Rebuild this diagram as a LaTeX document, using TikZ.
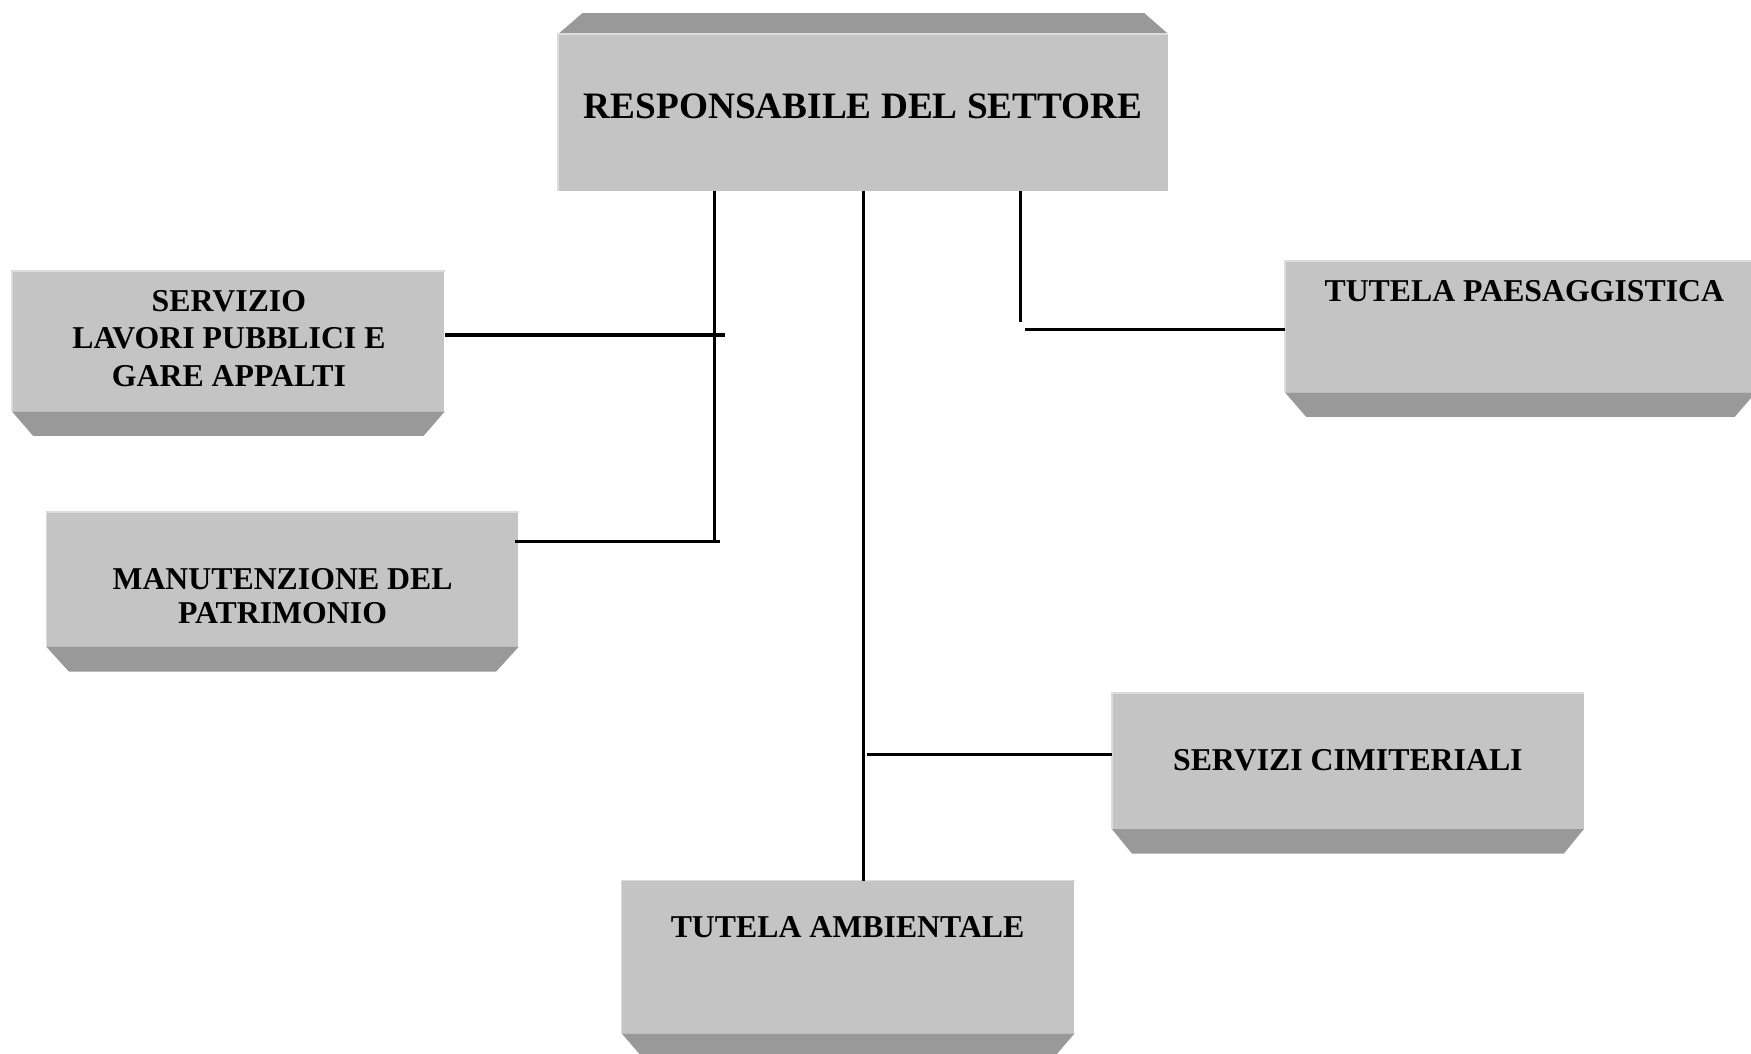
\documentclass[tikz,border=0pt]{standalone}
\usepackage{fontspec}
\setmainfont{Liberation Serif}
\usetikzlibrary{calc}
\definecolor{facegray}{HTML}{C4C4C4}
\definecolor{bevelgray}{HTML}{999999}
\definecolor{edgegray}{HTML}{DCDCDC}
\begin{document}
\begin{tikzpicture}[x=0.2mm,y=-0.2mm,
  box/.style={rectangle,fill=facegray,inner sep=0pt},
  conn/.style={black,line width=1.6pt},
  toptext/.style={font=\bfseries\fontsize{19}{22}\selectfont,align=center},
  subtext/.style={font=\bfseries\fontsize{16.2}{19}\selectfont,align=center}]
\useasboundingbox (0,0) rectangle (1568,943);
\clip (0,0) rectangle (1568,943);

% boxes
\node[box,minimum width=109.2mm,minimum height=28mm] (resp) at (773,101) {};
\node[box,minimum width=77.4mm,minimum height=25mm] (serv) at (204.5,305.5) {};
\node[box,minimum width=84.4mm,minimum height=24mm] (manut) at (253,519) {};
\node[box,minimum width=84.2mm,minimum height=23.4mm] (paes) at (1361.5,292.5) {};
\node[box,minimum width=84.4mm,minimum height=24.2mm] (cimit) at (1207,681.5) {};
\node[box,minimum width=81mm,minimum height=27.2mm] (amb) at (759.5,857) {};

% bevels
\fill[bevelgray] (resp.north west) -- ++(22,-19) -- ++(503,0) -- (resp.north east) -- cycle;
\foreach \n/\d in {serv/19,manut/20,paes/19,cimit/18,amb/19}
  \fill[bevelgray] (\n.south west) -- ++(\d,22) -- ($(\n.south east)+(-\d,22)$) -- (\n.south east) -- cycle;

% light edges
\foreach \n in {resp,serv,manut,paes,cimit,amb}
  \draw[edgegray,line width=0.8pt] (\n.south west) -- (\n.north west) -- (\n.north east);

% texts
\node[toptext] (tresp) at (773,95) {RESPONSABILE DEL SETTORE};
\node[subtext] (tserv) at (205,303) {SERVIZIO\\LAVORI PUBBLICI E\\GARE APPALTI};
\node[subtext,font=\bfseries\fontsize{16.2}{17.6}\selectfont] (tmanut) at (253,534) {MANUTENZIONE DEL\\PATRIMONIO};
\node[subtext] (tpaes) at (1365,261) {TUTELA PAESAGGISTICA};
\node[subtext] (tcimit) at (1207,681) {SERVIZI CIMITERIALI};
\node[subtext] (tamb) at (759,830) {TUTELA AMBIENTALE};

% connectors
\coordinate (lbus) at (639.5,485);
\coordinate (lstub) at (649,300);
\coordinate (lend) at (645,485);
\coordinate (cbus) at (776,676);
\coordinate (rbus) at (914,288);
\coordinate (rstub) at (918,295);
\draw[conn] (resp.south -| lbus) -- (lbus);
\draw[conn] (serv.east |- lstub) -- (lstub);
\draw[conn] ($(manut.east |- lend)+(-3,0)$) -- (lend);
\draw[conn] (resp.south) -- (resp.south |- amb.north);
\draw[conn] (cbus) -- (cimit.west |- cbus);
\draw[conn] (resp.south -| rbus) -- (rbus);
\draw[conn] (rstub) -- (paes.west |- rstub);
\end{tikzpicture}
\end{document}
